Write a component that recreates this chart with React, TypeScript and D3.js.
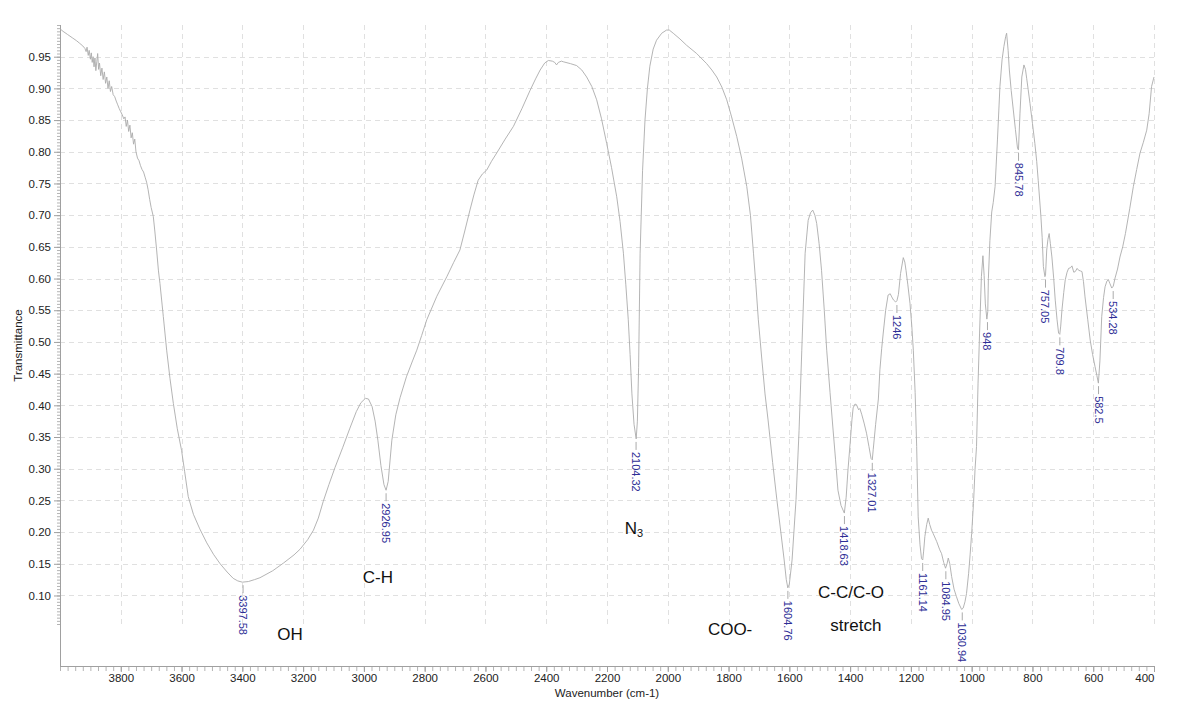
import React, { useEffect, useRef } from 'react';
import * as d3 from 'd3';

// spectrum: [wavenumber (cm-1), transmittance]
const spectrum: [number, number][] = [
  [4000, 0.994], [3990, 0.99], [3975, 0.985], [3960, 0.98], [3945, 0.975], [3935, 0.971], [3925, 0.967],
  [3918, 0.963], [3914, 0.958], [3911, 0.965], [3907, 0.952], [3904, 0.96], [3900, 0.946], [3897, 0.956],
  [3894, 0.941], [3891, 0.95], [3888, 0.934], [3885, 0.948], [3882, 0.928], [3879, 0.942], [3876, 0.955],
  [3873, 0.93], [3870, 0.94], [3866, 0.92], [3862, 0.932], [3858, 0.914], [3854, 0.926], [3850, 0.908],
  [3846, 0.918], [3842, 0.9], [3838, 0.912], [3834, 0.895], [3830, 0.903], [3825, 0.89], [3820, 0.887],
  [3815, 0.88], [3810, 0.874], [3805, 0.868], [3800, 0.863], [3795, 0.858], [3790, 0.852], [3786, 0.855],
  [3782, 0.84], [3778, 0.85], [3774, 0.832], [3770, 0.842], [3766, 0.822], [3762, 0.83], [3758, 0.812],
  [3754, 0.82], [3750, 0.8], [3745, 0.79], [3740, 0.786], [3735, 0.778], [3730, 0.772], [3725, 0.768],
  [3720, 0.76], [3715, 0.752], [3710, 0.74], [3705, 0.725], [3700, 0.712], [3693, 0.698], [3688, 0.675],
  [3682, 0.645], [3676, 0.612], [3671, 0.592], [3660, 0.54], [3649, 0.487], [3638, 0.442], [3627, 0.403],
  [3614, 0.363], [3600, 0.329], [3590, 0.296], [3578, 0.256], [3561, 0.228], [3540, 0.205], [3517, 0.183],
  [3495, 0.165], [3473, 0.15], [3450, 0.137], [3430, 0.127], [3415, 0.123], [3400, 0.121], [3380, 0.122],
  [3360, 0.125], [3342, 0.128], [3300, 0.139], [3265, 0.151], [3230, 0.164], [3210, 0.173], [3185, 0.188],
  [3166, 0.203], [3150, 0.222], [3134, 0.248], [3115, 0.275], [3095, 0.302], [3070, 0.333], [3046, 0.364],
  [3025, 0.39], [3010, 0.404], [2995, 0.411], [2985, 0.41], [2973, 0.398], [2963, 0.375], [2954, 0.345],
  [2944, 0.305], [2934, 0.275], [2927, 0.266], [2920, 0.28], [2908, 0.345], [2895, 0.385], [2881, 0.412],
  [2860, 0.445], [2840, 0.47], [2826, 0.487], [2810, 0.51], [2793, 0.535], [2760, 0.572], [2727, 0.603],
  [2705, 0.625], [2684, 0.645], [2668, 0.675], [2651, 0.708], [2638, 0.732], [2624, 0.755], [2610, 0.765],
  [2596, 0.771], [2580, 0.785], [2563, 0.798], [2535, 0.82], [2508, 0.84], [2480, 0.868], [2453, 0.897],
  [2435, 0.915], [2420, 0.929], [2405, 0.94], [2393, 0.944], [2380, 0.943], [2372, 0.941], [2366, 0.937],
  [2360, 0.941], [2350, 0.943], [2344, 0.942], [2320, 0.939], [2300, 0.936], [2283, 0.929], [2267, 0.918],
  [2250, 0.903], [2234, 0.882], [2218, 0.852], [2201, 0.813], [2185, 0.775], [2168, 0.729], [2157, 0.69],
  [2146, 0.64], [2138, 0.59], [2130, 0.535], [2124, 0.48], [2118, 0.418], [2111, 0.37], [2104, 0.347],
  [2100, 0.375], [2096, 0.46], [2091, 0.64], [2083, 0.77], [2075, 0.85], [2067, 0.9], [2059, 0.935],
  [2048, 0.962], [2037, 0.976], [2020, 0.987], [2004, 0.992], [1995, 0.992], [1982, 0.987], [1960, 0.978],
  [1938, 0.968], [1905, 0.955], [1872, 0.939], [1855, 0.929], [1839, 0.918], [1822, 0.902], [1806, 0.882],
  [1790, 0.855], [1773, 0.824], [1757, 0.79], [1740, 0.745], [1728, 0.7], [1718, 0.64], [1710, 0.59],
  [1702, 0.535], [1690, 0.47], [1680, 0.418], [1670, 0.377], [1655, 0.31], [1641, 0.251], [1628, 0.2],
  [1617, 0.156], [1610, 0.125], [1605, 0.112], [1600, 0.118], [1591, 0.156], [1578, 0.251], [1568, 0.36],
  [1559, 0.487], [1548, 0.64], [1538, 0.692], [1530, 0.704], [1523, 0.708], [1516, 0.7], [1510, 0.687],
  [1502, 0.655], [1494, 0.613], [1485, 0.55], [1477, 0.487], [1466, 0.42], [1456, 0.361], [1448, 0.315],
  [1440, 0.266], [1430, 0.242], [1419, 0.23], [1413, 0.255], [1407, 0.298], [1400, 0.34], [1394, 0.377],
  [1390, 0.396], [1384, 0.402], [1379, 0.401], [1372, 0.393], [1368, 0.395], [1362, 0.386], [1354, 0.372],
  [1346, 0.356], [1338, 0.335], [1331, 0.316], [1327, 0.314], [1324, 0.33], [1316, 0.37], [1307, 0.41],
  [1302, 0.456], [1296, 0.49], [1291, 0.514], [1283, 0.55], [1275, 0.574], [1268, 0.576], [1263, 0.571],
  [1257, 0.566], [1250, 0.563], [1246, 0.565], [1241, 0.575], [1234, 0.608], [1225, 0.633], [1220, 0.626],
  [1216, 0.613], [1210, 0.59], [1203, 0.561], [1197, 0.525], [1192, 0.487], [1186, 0.42], [1181, 0.335],
  [1176, 0.224], [1170, 0.18], [1165, 0.158], [1161, 0.156], [1158, 0.17], [1154, 0.193], [1148, 0.212],
  [1143, 0.222], [1138, 0.212], [1132, 0.203], [1127, 0.198], [1115, 0.185], [1105, 0.172], [1099, 0.166],
  [1092, 0.152], [1086, 0.143], [1081, 0.15], [1077, 0.159], [1072, 0.15], [1066, 0.13], [1058, 0.11],
  [1050, 0.098], [1042, 0.087], [1033, 0.078], [1028, 0.08], [1022, 0.09], [1017, 0.103], [1010, 0.135],
  [1005, 0.165], [1000, 0.198], [994, 0.245], [989, 0.298], [984, 0.335], [979, 0.435], [974, 0.514],
  [968, 0.603], [963, 0.636], [959, 0.605], [955, 0.56], [950, 0.536], [947, 0.548], [945, 0.6],
  [940, 0.66], [934, 0.705], [929, 0.72], [923, 0.745], [915, 0.82], [907, 0.903], [900, 0.945],
  [894, 0.966], [888, 0.982], [885, 0.987], [880, 0.96], [876, 0.929], [870, 0.897], [863, 0.866],
  [856, 0.835], [849, 0.805], [846, 0.803], [841, 0.861], [835, 0.918], [828, 0.937], [823, 0.93],
  [819, 0.916], [814, 0.898], [808, 0.876], [800, 0.845], [792, 0.813], [786, 0.785], [781, 0.755],
  [772, 0.697], [768, 0.665], [764, 0.619], [759, 0.603], [757, 0.605], [753, 0.645], [749, 0.662],
  [745, 0.671], [741, 0.655], [736, 0.634], [730, 0.6], [725, 0.566], [719, 0.535], [714, 0.514],
  [710, 0.512], [707, 0.525], [703, 0.55], [697, 0.578], [692, 0.598], [686, 0.61], [681, 0.616],
  [675, 0.617], [670, 0.62], [664, 0.61], [659, 0.611], [653, 0.616], [648, 0.613], [642, 0.612],
  [637, 0.611], [632, 0.595], [627, 0.571], [618, 0.535], [610, 0.503], [602, 0.48], [594, 0.461],
  [588, 0.447], [583, 0.435], [578, 0.47], [572, 0.54], [566, 0.57], [561, 0.587], [555, 0.596],
  [550, 0.598], [545, 0.592], [539, 0.585], [534, 0.588], [528, 0.601], [520, 0.615], [512, 0.634],
  [503, 0.65], [494, 0.671], [480, 0.71], [468, 0.745], [457, 0.772], [446, 0.798], [435, 0.815],
  [424, 0.834], [416, 0.86], [408, 0.903], [400, 0.918],
];

// peak picks: wavenumber, transmittance at the minimum, printed label
const peakWavenumbers = [3397.58, 2926.95, 2104.32, 1604.76, 1418.63, 1327.01, 1246, 1161.14, 1084.95, 1030.94, 948, 845.78, 757.05, 709.8, 582.5, 534.28];
const peakMinima = [0.121, 0.266, 0.347, 0.112, 0.23, 0.314, 0.563, 0.156, 0.143, 0.078, 0.536, 0.803, 0.603, 0.512, 0.435, 0.585];
const peakTexts = ['3397.58', '2926.95', '2104.32', '1604.76', '1418.63', '1327.01', '1246', '1161.14', '1084.95', '1030.94', '948', '845.78', '757.05', '709.8', '582.5', '534.28'];

// band assignments, anchored in data units (text centre)
const bandTexts = ['OH', 'C-H', 'N', 'COO-', 'C-C/C-O', 'stretch'];
const bandWavenumbers = [3243, 2954, 2111, 1795, 1397, 1381];
const bandLevels = [0.038, 0.129, 0.206, 0.047, 0.104, 0.053];

const xTickValues = [3800, 3600, 3400, 3200, 3000, 2800, 2600, 2400, 2200, 2000, 1800, 1600, 1400, 1200, 1000, 800, 600, 400];
const yTickValues = [0.1, 0.15, 0.2, 0.25, 0.3, 0.35, 0.4, 0.45, 0.5, 0.55, 0.6, 0.65, 0.7, 0.75, 0.8, 0.85, 0.9, 0.95];

export default function App() {
  const ref = useRef<SVGSVGElement>(null);

  useEffect(() => {
    const width = 1186;
    const height = 705;
    const left = 60;
    const right = 1154;
    const axisY = 666;
    const font = '"Liberation Sans", Arial, Helvetica, sans-serif';

    const x = d3.scaleLinear().domain([4000, 400]).range([left, right]);
    const y = d3.scaleLinear().domain([0.055, 1.0]).range([624, 25]);

    const svg = d3.select(ref.current).attr('viewBox', [0, 0, width, height]);
    svg.selectAll('*').remove();

    svg.append('rect').attr('width', width).attr('height', height).attr('fill', '#fff');

    // grid
    const grid = svg.append('g').attr('stroke', '#e0e0e0').attr('stroke-width', 1).attr('stroke-dasharray', '5,4');
    grid
      .selectAll('line.v')
      .data(xTickValues)
      .enter()
      .append('line')
      .attr('x1', (d) => Math.round(x(d)) + 0.5)
      .attr('x2', (d) => Math.round(x(d)) + 0.5)
      .attr('y1', y(1.0))
      .attr('y2', y(0.055));
    grid
      .selectAll('line.h')
      .data(yTickValues)
      .enter()
      .append('line')
      .attr('x1', left)
      .attr('x2', right)
      .attr('y1', (d) => Math.round(y(d)) + 0.5)
      .attr('y2', (d) => Math.round(y(d)) + 0.5);

    // y axis: minor + major ticks
    const yMinor = d3.range(0, 190).map((i) => 0.055 + i * 0.005).filter((v) => v <= 1.0001);
    const gyMinor = svg
      .append('g')
      .attr('transform', `translate(${left},0)`)
      .call(d3.axisLeft(y).tickValues(yMinor).tickSize(3).tickSizeOuter(0).tickFormat(() => ''));
    gyMinor.select('.domain').remove();
    gyMinor.selectAll('line').attr('stroke', '#b4b4b4');

    const gy = svg
      .append('g')
      .attr('transform', `translate(${left},0)`)
      .call(d3.axisLeft(y).tickValues(yTickValues).tickSize(6).tickSizeOuter(0).tickFormat(d3.format('.2f')));
    gy.select('.domain').remove();
    gy.selectAll('line').attr('stroke', '#a0a0a0');
    gy.selectAll('text').attr('font-family', font).attr('font-size', 11.5).attr('fill', '#222').attr('x', -9);

    // x axis: minor + major ticks
    const xMinor = d3.range(400, 4001, 25);
    const gxMinor = svg
      .append('g')
      .attr('transform', `translate(0,${axisY})`)
      .call(d3.axisBottom(x).tickValues(xMinor).tickSize(5).tickSizeOuter(0).tickFormat(() => ''));
    gxMinor.select('.domain').remove();
    gxMinor.selectAll('line').attr('stroke', '#b4b4b4');

    const gx = svg
      .append('g')
      .attr('transform', `translate(0,${axisY})`)
      .call(d3.axisBottom(x).tickValues(xTickValues).tickSize(6).tickSizeOuter(0).tickFormat(d3.format('d')));
    gx.select('.domain').remove();
    gx.selectAll('line').attr('stroke', '#a0a0a0');
    gx.selectAll('text')
      .attr('font-family', font)
      .attr('font-size', 11.5)
      .attr('fill', '#222')
      .attr('y', 8)
      .attr('text-anchor', (d) => (d === 400 ? 'end' : 'middle'));

    // axis lines
    svg.append('line').attr('x1', left + 0.5).attr('x2', left + 0.5).attr('y1', y(1.0)).attr('y2', axisY).attr('stroke', '#a0a0a0');
    svg.append('line').attr('x1', left).attr('x2', right).attr('y1', axisY + 0.5).attr('y2', axisY + 0.5).attr('stroke', '#a0a0a0');

    // axis titles
    svg
      .append('text')
      .attr('x', (left + right) / 2)
      .attr('y', 697)
      .attr('text-anchor', 'middle')
      .attr('font-family', font)
      .attr('font-size', 11.5)
      .attr('fill', '#222')
      .text('Wavenumber (cm-1)');
    svg
      .append('text')
      .attr('transform', `translate(22,${(y(1.0) + axisY) / 2}) rotate(-90)`)
      .attr('text-anchor', 'middle')
      .attr('font-family', font)
      .attr('font-size', 11.5)
      .attr('fill', '#222')
      .text('Transmittance');

    // spectrum
    const line = d3
      .line<[number, number]>()
      .x((d) => x(d[0]))
      .y((d) => y(d[1]));
    svg
      .append('path')
      .datum(spectrum)
      .attr('d', line)
      .attr('fill', 'none')
      .attr('stroke', '#ababab')
      .attr('stroke-width', 0.9);

    // peak picks
    const peaks = svg.append('g');
    peakWavenumbers.forEach((wn, i) => {
      const px = x(wn);
      const py = y(peakMinima[i]);
      peaks
        .append('line')
        .attr('x1', px)
        .attr('x2', px)
        .attr('y1', py + 3)
        .attr('y2', py + 11)
        .attr('stroke', '#ababab');
      peaks
        .append('text')
        .attr('transform', `translate(${px},${py + 13}) rotate(90)`)
        .attr('dominant-baseline', 'central')
        .attr('font-family', font)
        .attr('font-size', 11)
        .attr('fill', '#2e2e96')
        .text(peakTexts[i]);
    });

    // band assignments
    const bands = svg.append('g');
    bandTexts.forEach((t, i) => {
      const label = bands
        .append('text')
        .attr('x', x(bandWavenumbers[i]))
        .attr('y', y(bandLevels[i]))
        .attr('text-anchor', 'middle')
        .attr('dominant-baseline', 'central')
        .attr('font-family', font)
        .attr('font-size', 17)
        .attr('fill', '#111')
        .text(t);
      if (t === 'N') {
        label.append('tspan').attr('dy', 5).attr('font-size', 11).text('3');
      }
    });
  }, []);

  return (
    <svg
      ref={ref}
      width={1186}
      height={705}
      style={{ position: 'absolute', left: 0, top: 0, display: 'block' }}
    />
  );
}
